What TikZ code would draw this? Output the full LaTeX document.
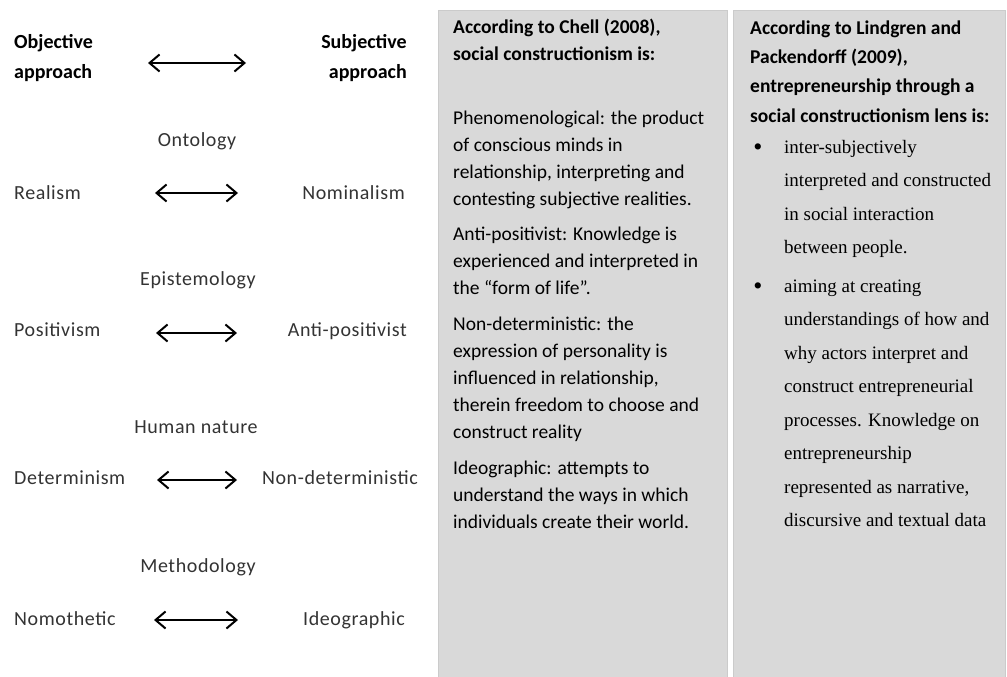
\documentclass[tikz,border=0pt]{standalone}
\usepackage{fontspec}
\setmainfont{Carlito}
\newfontfamily\spacedsans[LetterSpace=3]{Carlito}
\newfontfamily\bodyserif{Liberation Serif}
\usetikzlibrary{arrows.meta,positioning}

\definecolor{panelgray}{HTML}{D9D9D9}
\definecolor{panelline}{HTML}{CBCBCB}

\begin{document}
\begin{tikzpicture}[x=1pt,y=-1pt,>={Straight Barb[length=10pt,width=17pt]},
  lbl/.style={inner sep=0pt,text=black!80,font=\spacedsans\fontsize{20}{30}\selectfont},
  head/.style={inner sep=0pt,align=left,font=\fontsize{20}{30}\selectfont\bfseries},
  dbl/.style={<->,line width=2pt},
  panel/.style={fill=panelgray,draw=panelline,line width=0.8pt},
  chell/.style={inner sep=0pt,align=left,anchor=base west,font=\fontsize{19.5}{27}\selectfont},
  lind/.style={inner sep=0pt,align=left,anchor=base west,font=\bodyserif\fontsize{19}{33.5}\selectfont}]

\useasboundingbox (0,0) rectangle (1007,677);

% the two grey columns
\draw[panel] (438,10) rectangle (727,680);
\draw[panel] (733,10) rectangle (1005,680);

% left side: the two approaches (base = last line)
\node[head,anchor=base west] (objhead) at (14,78) {Objective\\approach};
\node[head,align=right,anchor=base east] (subhead) at (407,78) {Subjective\\approach};
\coordinate (topL) at (148,63);
\coordinate (topR) at (246,63);

\node[lbl,anchor=base] (onto) at (197,146) {Ontology};
\node[lbl,anchor=base west] (real) at (14,199) {Realism};
\node[lbl,anchor=base east] (nomin) at (405,199) {Nominalism};
\coordinate (ontoL) at (155,193);
\coordinate (ontoR) at (238,193);

\node[lbl,anchor=base] (episte) at (198,285) {Epistemology};
\node[lbl,anchor=base west] (posit) at (14,336) {Positivism};
\node[lbl,anchor=base east] (antipos) at (407,336) {Anti-positivist};
\coordinate (epiL) at (156,333);
\coordinate (epiR) at (237,333);

\node[lbl,anchor=base] (human) at (196,433) {Human nature};
\node[lbl,anchor=base west] (determ) at (14,484) {Determinism};
\node[lbl,anchor=base east] (nondet) at (418,484) {Non-deterministic};
\coordinate (humL) at (157,480);
\coordinate (humR) at (237,480);

\node[lbl,anchor=base] (method) at (198,572) {Methodology};
\node[lbl,anchor=base west] (nomoth) at (14,625) {Nomothetic};
\node[lbl,anchor=base east] (ideog) at (405,625) {Ideographic};
\coordinate (metL) at (154,620);
\coordinate (metR) at (238,620);

\draw[dbl] (topL) -- (topR);
\draw[dbl] (ontoL) -- (ontoR);
\draw[dbl] (epiL) -- (epiR);
\draw[dbl] (humL) -- (humR);
\draw[dbl] (metL) -- (metR);

% Chell column
\node[chell,font=\fontsize{19.5}{27}\selectfont\bfseries] (chellhead) at (453,61)
  {According to Chell (2008),\\social constructionism is:};
\node[chell] (chellphen) at (453,205)
  {Phenomenological: the product\\of conscious minds in\\relationship, interpreting and\\contesting subjective realities.};
\node[chell] (chellanti) at (453,294.5)
  {Anti-positivist: Knowledge is\\experienced and interpreted in\\the “form of life”.};
\node[chell] (chellnon) at (453,438)
  {Non-deterministic: the\\expression of personality is\\influenced in relationship,\\therein freedom to choose and\\construct reality};
\node[chell] (chellideo) at (453,528)
  {Ideographic: attempts to\\understand the ways in which\\individuals create their world.};

% Lindgren and Packendorff column
\node[chell,font=\fontsize{19.5}{29.3}\selectfont\bfseries] (lindhead) at (750,122)
  {According to Lindgren and\\Packendorff (2009),\\entrepreneurship through a\\social constructionism lens is:};
\node[lind,anchor=base,font=\bodyserif\fontsize{26}{30}\selectfont] (dotone) at (758,155) {•};
\node[lind] (lindone) at (784,253.5)
  {inter-subjectively\\interpreted and constructed\\in social interaction\\between people.};
\node[lind,anchor=base,font=\bodyserif\fontsize{26}{30}\selectfont] (dottwo) at (758,294) {•};
\node[lind] (lindtwo) at (784,526.5)
  {aiming at creating\\understandings of how and\\why actors interpret and\\construct entrepreneurial\\processes. Knowledge on\\entrepreneurship\\represented as narrative,\\discursive and textual data};
\end{tikzpicture}
\end{document}
